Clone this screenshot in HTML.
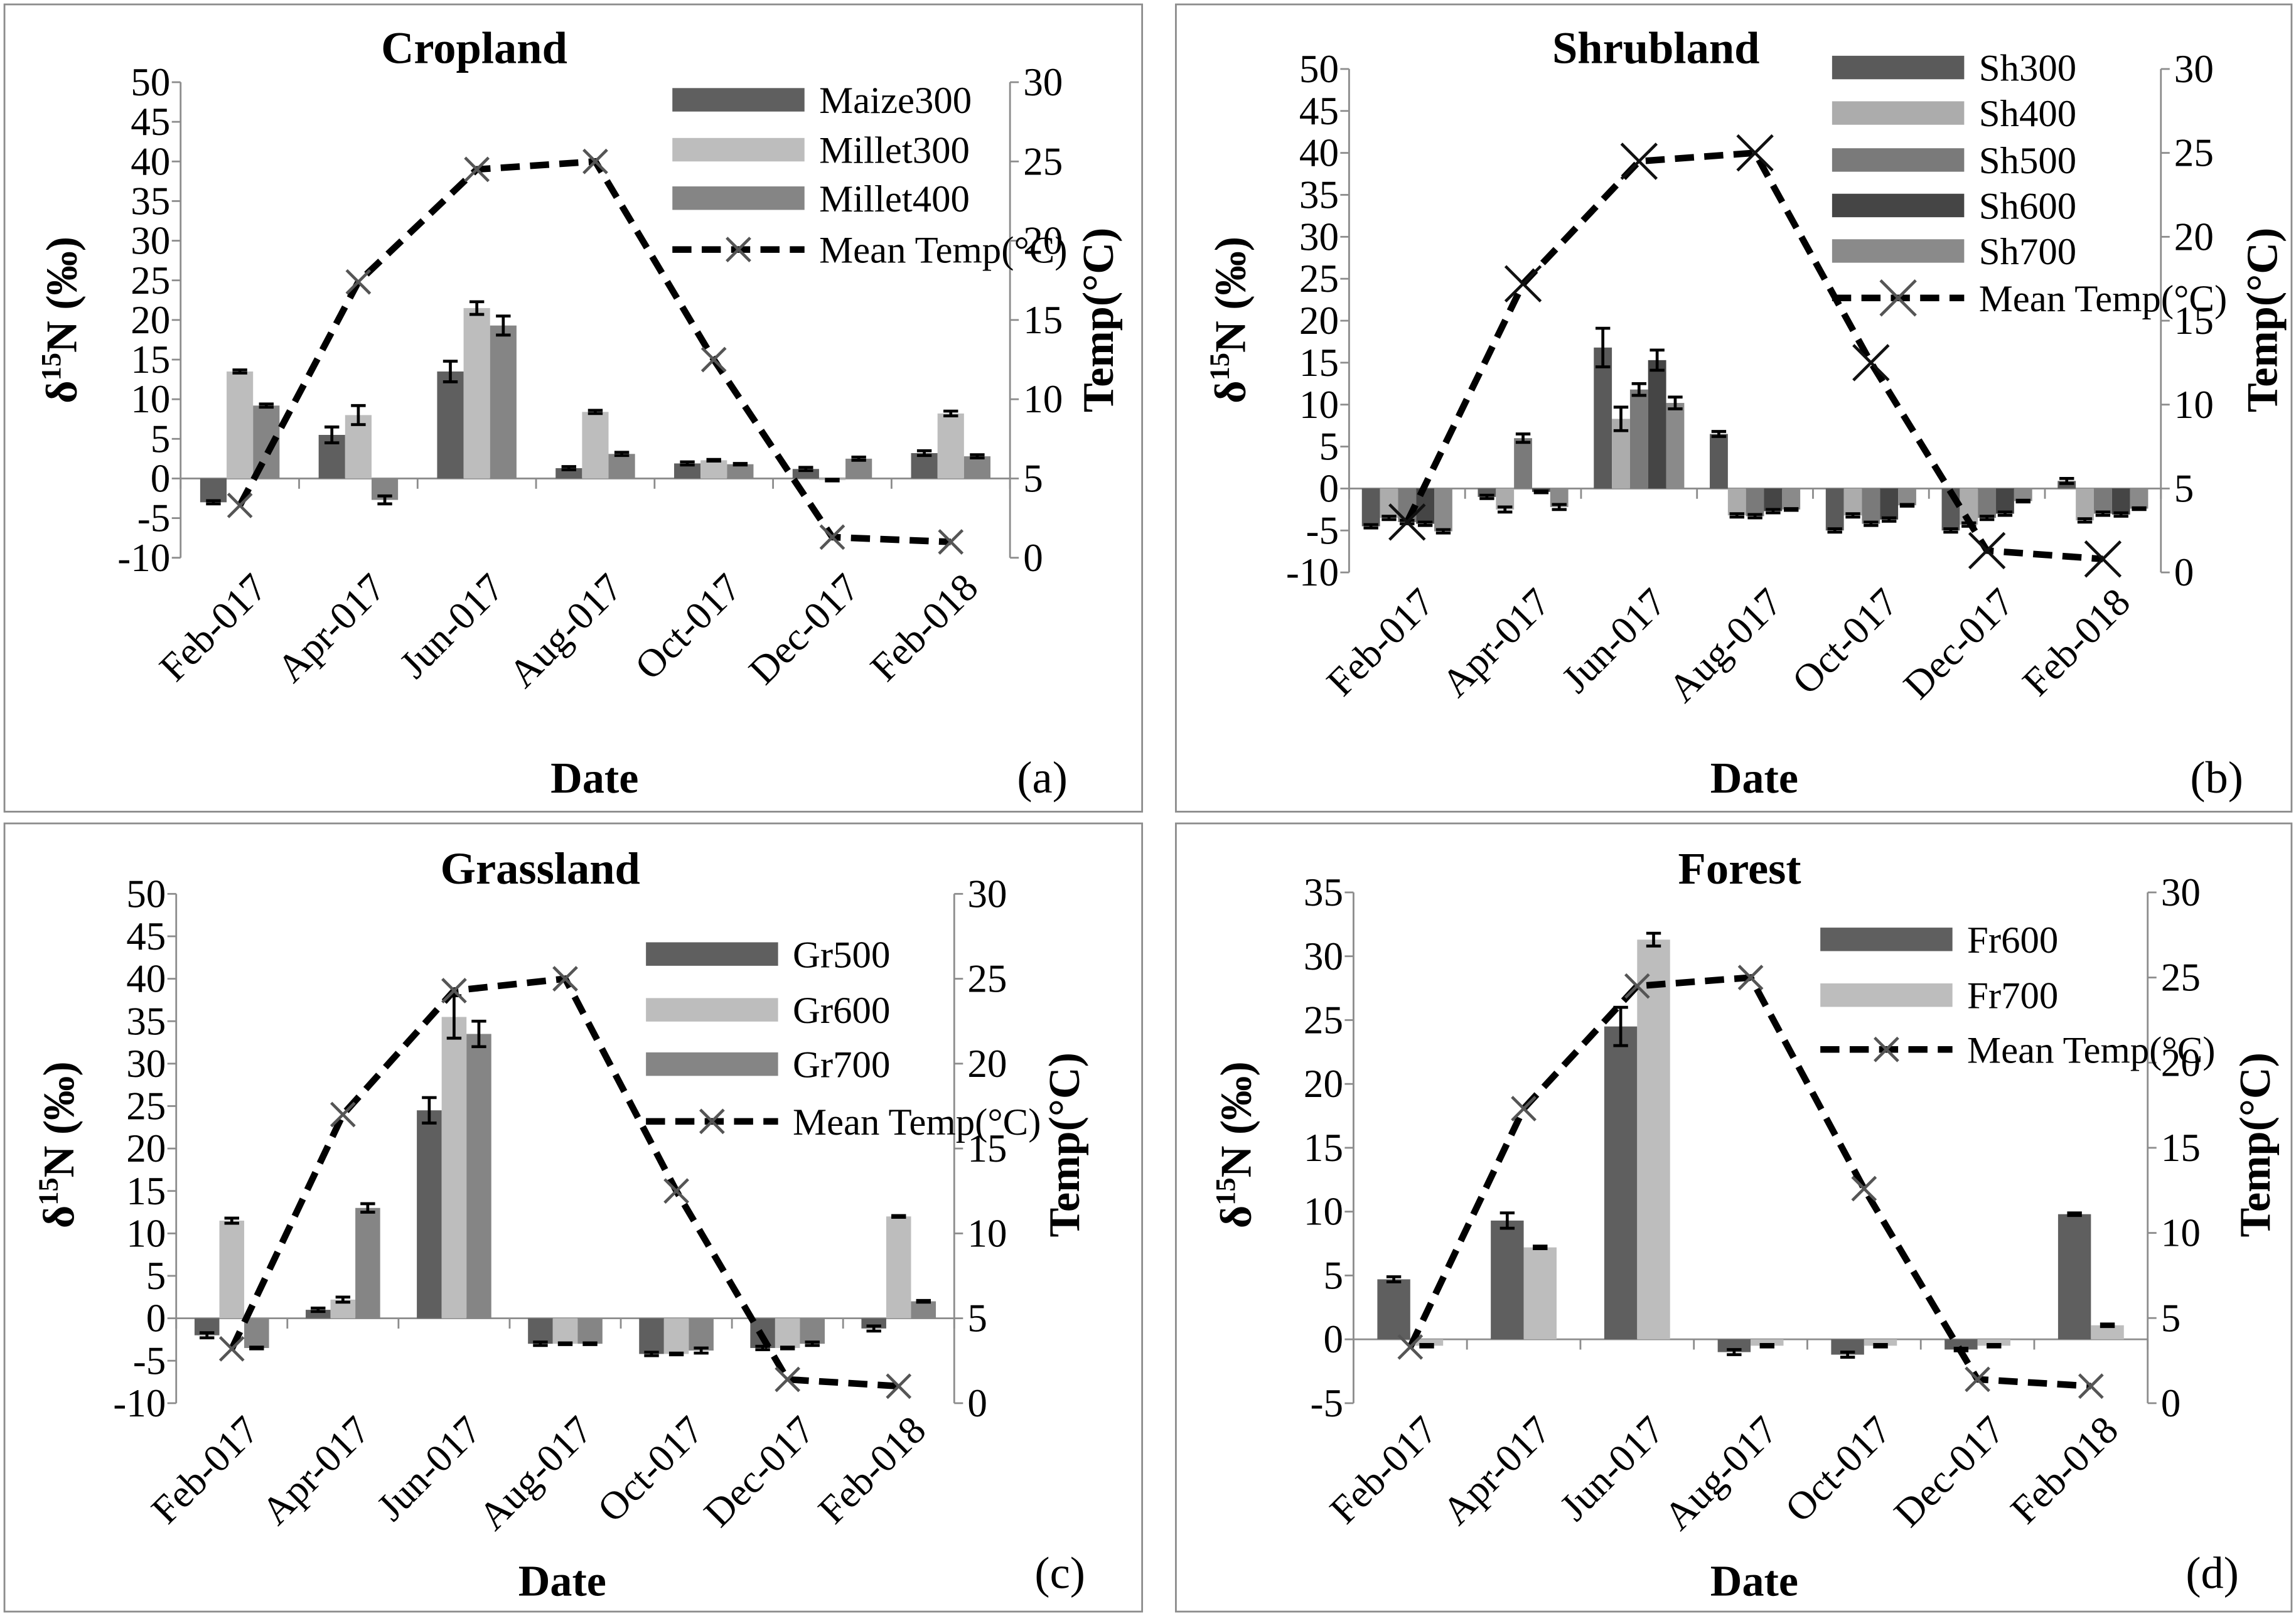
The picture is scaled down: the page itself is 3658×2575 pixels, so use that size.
<!DOCTYPE html>
<html><head><meta charset="utf-8"><style>
html,body{margin:0;padding:0;background:#fff}
svg{display:block}
svg text{font-family:"Liberation Serif","DejaVu Serif",serif;fill:#000}
</style></head><body>
<svg id="fig" width="3658" height="2575" viewBox="0 0 1564 1101" xmlns="http://www.w3.org/2000/svg" font-family="Liberation Serif, serif">
<rect x="0" y="0" width="1564" height="1101" fill="#fff"/>
</svg>
<script>
// ---- shared data ----
const categories = ["Feb-017","Apr-017","Jun-017","Aug-017","Oct-017","Dec-017","Feb-018"];
const tempA = [3.3, 17.4, 24.5, 25.0, 12.5, 1.3, 1.0];
const tempB = [3.0, 17.2, 24.5, 25.0, 12.5, 1.3, 0.8];
const tempC = [3.2, 17.0, 24.3, 25.0, 12.5, 1.4, 1.0];
const tempD = [3.3, 17.3, 24.5, 25.0, 12.6, 1.4, 1.0];
// Cropland
const cropSeries = ["Maize300","Millet300","Millet400"];
const maize300 = [-3.0, 5.5, 13.5, 1.3, 1.9, 1.2, 3.2];
const millet300 = [13.5, 8.0, 21.5, 8.4, 2.3, -0.2, 8.2];
const millet400 = [9.2, -2.7, 19.3, 3.1, 1.8, 2.5, 2.8];
const cropErr = [[0.2,1.0,1.3,0.2,0.2,0.2,0.3],[0.2,1.2,0.8,0.2,0.1,0.1,0.3],[0.2,0.5,1.2,0.2,0.1,0.2,0.2]];
// Shrubland
const shrubSeries = ["Sh300","Sh400","Sh500","Sh600","Sh700"];
const sh300 = [-4.5, -1.0, 16.8, 6.5, -5.0, -5.0, 0.9];
const sh400 = [-3.5, -2.5, 8.3, -3.2, -3.2, -4.3, -3.8];
const sh500 = [-4.0, 6.0, 11.8, -3.3, -4.2, -3.5, -3.0];
const sh600 = [-4.2, -0.4, 15.3, -2.7, -3.7, -3.0, -3.1];
const sh700 = [-5.1, -2.2, 10.2, -2.5, -2.0, -1.5, -2.4];
const shrubErr = [[0.2,0.2,2.3,0.3,0.2,0.2,0.3],[0.2,0.3,1.4,0.2,0.2,0.2,0.2],[0.2,0.5,0.7,0.2,0.2,0.2,0.2],[0.2,0.1,1.2,0.2,0.2,0.2,0.2],[0.2,0.3,0.7,0.1,0.1,0.1,0.1]];
// Grassland
const grassSeries = ["Gr500","Gr600","Gr700"];
const gr500 = [-2.0, 1.0, 24.5, -3.0, -4.2, -3.5, -1.2];
const gr600 = [11.5, 2.2, 35.5, -3.0, -4.2, -3.5, 12.0];
const gr700 = [-3.5, 13.0, 33.5, -3.0, -3.8, -3.0, 2.0];
const grassErr = [[0.3,0.2,1.5,0.2,0.2,0.2,0.3],[0.3,0.3,2.5,0.1,0.1,0.1,0.1],[0.1,0.5,1.5,0.1,0.3,0.2,0.1]];
// Forest
const forestSeries = ["Fr600","Fr700"];
const fr600 = [4.7, 9.3, 24.5, -1.0, -1.2, -0.8, 9.8];
const fr700 = [-0.5, 7.2, 31.3, -0.5, -0.5, -0.5, 1.1];
const forestErr = [[0.2,0.6,1.5,0.2,0.2,0.1,0.1],[0.1,0.1,0.5,0.1,0.1,0.1,0.1]];

const NS = "http://www.w3.org/2000/svg";
const svg = document.getElementById('fig');
function mk(tag, attrs, parent){const e=document.createElementNS(NS,tag);for(const k in attrs)e.setAttribute(k,attrs[k]);(parent||svg).appendChild(e);return e;}
const SERIF = 'Liberation Serif, serif';

const panels = [
 {id:'a', title:'Cropland', box:[3,3,775,550], L:123, R:688, top:56, bot:380, ymin:-10, ymax:50, ystep:5,
  series:cropSeries, vals:[maize300,millet300,millet400], err:cropErr, colors:['#5f5f5f','#bdbdbd','#858585'], temp:tempA, grp:0.67,
  titleXY:[323,43], legX:458, legRows:[68,102,135], legLine:170, yTitleX:42, yTitleY:218, tTitleX:760, dateXY:[405,540], tagXY:[710,540], catY:402, mark:8},
 {id:'b', title:'Shrubland', box:[801,3,760,550], L:919, R:1472, top:47, bot:390, ymin:-10, ymax:50, ystep:5,
  series:shrubSeries, vals:[sh300,sh400,sh500,sh600,sh700], err:shrubErr, colors:['#5a5a5a','#acacac','#7a7a7a','#454545','#8a8a8a'], temp:tempB, grp:0.78,
  titleXY:[1128,43], legX:1248, legRows:[46,77,109,140,171], legLine:203, yTitleX:838, yTitleY:218, tTitleX:1553, dateXY:[1195,540], tagXY:[1510,540], catY:412, mark:12},
 {id:'c', title:'Grassland', box:[3,561,775,537], L:120, R:650, top:609, bot:956, ymin:-10, ymax:50, ystep:5,
  series:grassSeries, vals:[gr500,gr600,gr700], err:grassErr, colors:['#5f5f5f','#bdbdbd','#858585'], temp:tempC, grp:0.67,
  titleXY:[368,602], legX:440, legRows:[650,688,725], legLine:764, yTitleX:40, yTitleY:780, tTitleX:737, dateXY:[383,1087], tagXY:[722,1082], catY:976, mark:8},
 {id:'d', title:'Forest', box:[801,561,760,537], L:922, R:1463, top:608, bot:956, ymin:-5, ymax:35, ystep:5,
  series:forestSeries, vals:[fr600,fr700], err:forestErr, colors:['#5f5f5f','#bdbdbd'], temp:tempD, grp:0.58,
  titleXY:[1185,602], legX:1240, legRows:[640,678], legLine:715, yTitleX:842, yTitleY:780, tTitleX:1548, dateXY:[1195,1087], tagXY:[1507,1082], catY:976, mark:8}
];

panels.forEach(p=>{
  const g = mk('g',{'font-family':SERIF});
  
  
  const border = mk('rect',{x:p.box[0],y:p.box[1],width:p.box[2],height:p.box[3],fill:'none',stroke:'#8c8c8c','stroke-width':1.2},g);
  
  
  const y = v => p.bot - (v-p.ymin)/(p.ymax-p.ymin)*(p.bot-p.top);
  const yt = v => p.bot - v/30*(p.bot-p.top);
  const n = categories.length, cw = (p.R-p.L)/n;
  const cx = i => p.L + cw*(i+0.5);
  const la = mk('line',{x1:p.L,y1:p.top,x2:p.L,y2:p.bot,stroke:'#8c8c8c','stroke-width':1.2},g);
  
  
  for(let v=p.ymin; v<=p.ymax; v+=p.ystep){
    mk('line',{x1:p.L-6,y1:y(v),x2:p.L,y2:y(v),stroke:'#8c8c8c','stroke-width':1.2},g);
    const t = mk('text',{x:p.L-7,y:y(v)+9,'text-anchor':'end','font-size':27,'font-family':SERIF},g);
    t.textContent = v;
    
    
  }
  const ra = mk('line',{x1:p.R,y1:p.top,x2:p.R,y2:p.bot,stroke:'#8c8c8c','stroke-width':1.2},g);
  
  
  for(let v=0; v<=30; v+=5){
    mk('line',{x1:p.R,y1:yt(v),x2:p.R+6,y2:yt(v),stroke:'#8c8c8c','stroke-width':1.2},g);
    const t = mk('text',{x:p.R+9,y:yt(v)+9,'font-size':27,'font-family':SERIF},g);
    t.textContent = v;
    
    
  }
  const z = mk('line',{x1:p.L,y1:y(0),x2:p.R,y2:y(0),stroke:'#8c8c8c','stroke-width':1.2},g);
  
  
  for(let i=0;i<=n;i++) mk('line',{x1:p.L+cw*i,y1:y(0),x2:p.L+cw*i,y2:y(0)+7,stroke:'#8c8c8c','stroke-width':1.2},g);
  const ns = p.vals.length, bw = cw*p.grp/ns;
  p.vals.forEach((arr,s)=>{
    arr.forEach((v,i)=>{
      const x0 = cx(i) - cw*p.grp/2 + s*bw;
      const r = mk('rect',{x:x0,y:Math.min(y(v),y(0)),width:bw,height:Math.abs(y(v)-y(0)),fill:p.colors[s]},g);
      
      
      const e = p.err[s][i], xm = x0+bw/2;
      const eb = mk('path',{d:`M${xm},${y(v+e)}V${y(v-e)}M${xm-5},${y(v+e)}h10M${xm-5},${y(v-e)}h10`,stroke:'#000','stroke-width':2,fill:'none'},g);
      
      
    });
  });
  const pts = p.temp.map((v,i)=>cx(i)+','+yt(v)).join(' ');
  const pl = mk('polyline',{points:pts,fill:'none',stroke:'#000','stroke-width':4.5,'stroke-dasharray':'13 7'},g);
  
  
  p.temp.forEach((v,i)=>{
    const m=p.mark, X=cx(i), Y=yt(v);
    const mm = mk('path',{d:`M${X-m},${Y-m}L${X+m},${Y+m}M${X-m},${Y+m}L${X+m},${Y-m}`,stroke:p.id==='b'?'#111':'#555','stroke-width':2},g);
    
    
  });
  categories.forEach((c,i)=>{
    const X = cx(i)+20, Y = p.catY;
    const t = mk('text',{x:X,y:Y,'text-anchor':'end','font-size':27,'font-family':SERIF,transform:`rotate(-45 ${X} ${Y})`},g);
    t.textContent = c;
    
    
  });
  p.series.forEach((s,k)=>{
    const yy = p.legRows[k];
    const sw = mk('rect',{x:p.legX,y:yy-8,width:90,height:16,fill:p.colors[k]},g);
    
    
    const t = mk('text',{x:p.legX+100,y:yy+9,'font-size':26,'font-family':SERIF},g);
    t.textContent = s;
    
    
  });
  const ll = mk('line',{x1:p.legX,y1:p.legLine,x2:p.legX+90,y2:p.legLine,stroke:'#000','stroke-width':4.5,'stroke-dasharray':'13 7'},g);
  
  
  const lx = p.legX+45, m=p.mark;
  mk('path',{d:`M${lx-m},${p.legLine-m}L${lx+m},${p.legLine+m}M${lx-m},${p.legLine+m}L${lx+m},${p.legLine-m}`,stroke:'#555','stroke-width':2},g);
  const lt = mk('text',{x:p.legX+100,y:p.legLine+9,'font-size':26,'font-family':SERIF},g);
  lt.textContent = 'Mean Temp(°C)';
  
  
  const tt = mk('text',{x:p.titleXY[0],y:p.titleXY[1],'text-anchor':'middle','font-size':31,'font-weight':'bold','font-family':SERIF},g);
  tt.textContent = p.title;
  
  
  const yl = mk('text',{x:p.yTitleX,y:p.yTitleY,'text-anchor':'middle','font-size':30,'font-weight':'bold','font-family':SERIF,transform:`rotate(-90 ${p.yTitleX} ${p.yTitleY})`,dy:10},g);
  yl.innerHTML = 'δ<tspan font-size="19" dy="-11">15</tspan><tspan dy="11">N (‰)</tspan>';
  
  
  const tl = mk('text',{x:p.tTitleX,y:p.yTitleY,'text-anchor':'middle','font-size':30,'font-weight':'bold','font-family':SERIF,transform:`rotate(-90 ${p.tTitleX} ${p.yTitleY})`,dy:-2},g);
  tl.textContent = 'Temp(°C)';
  
  
  const dt = mk('text',{x:p.dateXY[0],y:p.dateXY[1],'text-anchor':'middle','font-size':30,'font-weight':'bold','font-family':SERIF},g);
  dt.textContent = 'Date';
  
  
  const tg = mk('text',{x:p.tagXY[0],y:p.tagXY[1],'text-anchor':'middle','font-size':31,'font-family':'Liberation Sans, sans-serif'},g);
  tg.textContent = '('+p.id+')';
  
  
});
</script>
</body></html>
